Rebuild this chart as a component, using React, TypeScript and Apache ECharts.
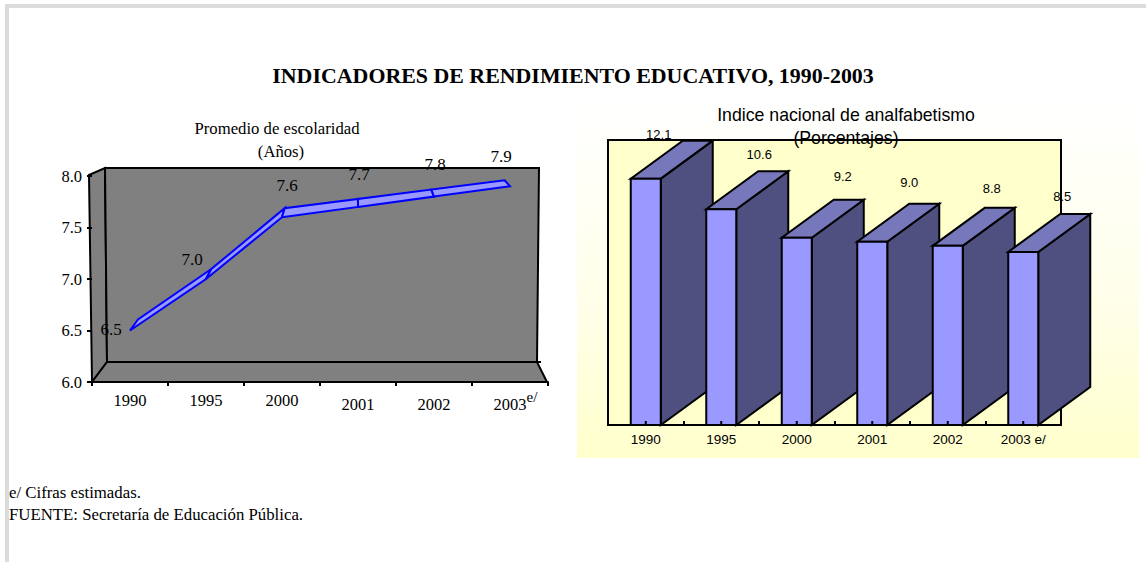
import React, { useEffect, useRef } from "react";
import * as echarts from "echarts";

const mainTitle = "INDICADORES DE RENDIMIENTO EDUCATIVO, 1990-2003";
const leftTitle = "Promedio de escolaridad";
const leftSubtitle = "(Años)";
const rightTitle = "Indice nacional de analfabetismo";
const rightSubtitle = "(Porcentajes)";
const footnotes = ["e/ Cifras estimadas.", "FUENTE: Secretaría de Educación Pública."];

const leftYears = ["1990", "1995", "2000", "2001", "2002", "2003"];
const rightYears = ["1990", "1995", "2000", "2001", "2002", "2003 e/"];
const schooling = [6.5, 7.0, 7.6, 7.7, 7.8, 7.9];
const illiteracy = [12.1, 10.6, 9.2, 9.0, 8.8, 8.5];
const illiteracyLabels = ["12.1", "10.6", "9.2", "9.0", "8.8", "8.5"];
const yTicks = { min: 6, max: 8, interval: 0.5 };

// layout only: label offsets from each mark's anchor point
const leftLabelShift = [[-19, -1], [-14, -20], [5, -32], [1, -32], [1, -32], [-9, -30]];
const rightLabelShift = [[13, -44], [38, -55], [46, -61], [37, -59], [44, -57], [39, -55]];

const SERIF = '"Liberation Serif", serif';
const SANS = '"Liberation Sans", sans-serif';
const GREY = "#808080";

function wallsRender(params: any) {
  const c = params.coordSys;
  const L = c.x, R = c.x + c.width, T = c.y, B = c.y + c.height;
  const backB = B - 20, backT = T - 8;
  const st = { fill: GREY, stroke: "#000", lineWidth: 2 };
  const poly = (points: number[][]) => ({ type: "polygon", shape: { points }, style: st });
  return {
    type: "group",
    children: [
      poly([[L - 3, T - 1], [L + 13, backT], [L + 15, backB], [L, B]]),
      poly([[L + 13, backT], [R - 9, backT], [R - 11, backB], [L + 15, backB]]),
      poly([[L, B], [L + 15, backB], [R - 11, backB], [R - 1, B]]),
      { type: "line", shape: { x1: R - 11, y1: backB, x2: R - 7, y2: backB }, style: { stroke: "#000", lineWidth: 2 } },
    ],
  };
}

function ribbonRender(params: any, api: any) {
  const c = params.coordSys;
  const i = params.dataIndex;
  const mid = c.x + c.width * 0.583;
  const back = (p: number[]) => [
    p[0] + (mid - p[0]) * 0.035,
    p[1] - (11 - ((p[0] - c.x - 38) * 5) / 380),
  ];
  const a = api.coord([i, schooling[i]]);
  const children: any[] = [];
  if (i < schooling.length - 1) {
    const b = api.coord([i + 1, schooling[i + 1]]);
    children.push({
      type: "polygon",
      shape: { points: [a, b, back(b), back(a)] },
      style: { fill: "#9999ff", stroke: "#0000ff", lineWidth: 2 },
    });
  }
  children.push({
    type: "text",
    z2: 10,
    style: {
      x: a[0] + leftLabelShift[i][0],
      y: a[1] + leftLabelShift[i][1],
      text: schooling[i].toFixed(1),
      font: `17px ${SERIF}`,
      fill: "#000",
      align: "center",
      verticalAlign: "middle",
    },
  });
  return { type: "group", children };
}

function barRender(params: any, api: any) {
  const i = params.dataIndex;
  const top = api.coord([i, illiteracy[i]]);
  const base = api.coord([i, 0]);
  const w = 15, dx = 52, dy = -38;
  const x0 = top[0] - w, x1 = top[0] + w;
  const st = (fill: string) => ({ fill, stroke: "#000", lineWidth: 2, lineJoin: "miter" });
  return {
    type: "group",
    children: [
      { type: "polygon", shape: { points: [[x1, top[1]], [x1 + dx, top[1] + dy], [x1 + dx, base[1] + dy], [x1, base[1]]] }, style: st("#4f4f80") },
      { type: "polygon", shape: { points: [[x0, top[1]], [x1, top[1]], [x1 + dx, top[1] + dy], [x0 + dx, top[1] + dy]] }, style: st("#7777bb") },
      { type: "rect", shape: { x: x0, y: top[1], width: 2 * w, height: base[1] - top[1] }, style: st("#9999ff") },
      { type: "line", shape: { x1: top[0], y1: base[1], x2: top[0], y2: base[1] - 4 }, style: { stroke: "#000", lineWidth: 2 } },
      {
        type: "text",
        z2: 10,
        style: {
          x: top[0] + rightLabelShift[i][0],
          y: top[1] + rightLabelShift[i][1],
          text: illiteracyLabels[i],
          font: `13px ${SANS}`,
          fill: "#000",
          align: "center",
          verticalAlign: "middle",
        },
      },
    ],
  };
}

const titleItem = (text: string, x: number, y: number, font: string, size: number, weight = "normal") => ({
  text,
  left: x,
  top: y,
  textAlign: "center",
  textVerticalAlign: "middle",
  padding: 0,
  textStyle: { fontFamily: font, fontSize: size, fontWeight: weight, color: "#000" },
});

export default function App() {
  const ref = useRef<HTMLDivElement>(null);
  useEffect(() => {
    document.body.style.margin = "0";
    const chart = echarts.init(ref.current!, undefined, { renderer: "svg" });
    chart.setOption({
      animation: false,
      backgroundColor: "#fff",
      title: [
        titleItem(mainTitle, 573, 75, SERIF, 21.9, "bold"),
        titleItem(leftTitle, 277, 128, SERIF, 16.7),
        titleItem(leftSubtitle, 281, 151, SERIF, 16.7),
        titleItem(rightTitle, 846, 115, SANS, 17.7),
        titleItem(rightSubtitle, 846, 138, SANS, 17.7),
      ],
      graphic: [
        { type: "rect", z: -10, shape: { x: 5, y: 4, width: 1141, height: 4 }, style: { fill: "#dcdcdc" } },
        { type: "rect", z: -10, shape: { x: 5, y: 4, width: 4, height: 558 }, style: { fill: "#dcdcdc" } },
        {
          type: "rect",
          z: -10,
          shape: { x: 577, y: 100, width: 562, height: 358 },
          style: {
            fill: new echarts.graphic.LinearGradient(0, 0, 0, 1, [
              { offset: 0, color: "#ffffff" },
              { offset: 0.6, color: "#ffffe8" },
              { offset: 1, color: "#ffffcc" },
            ]),
          },
        },
        { type: "text", z: 10, style: { x: 532, y: 397, text: "e/", font: `15px ${SERIF}`, fill: "#000", verticalAlign: "middle", align: "center" } },
        { type: "text", z: 10, style: { x: 9, y: 492, text: footnotes[0], font: `16.8px ${SERIF}`, fill: "#000", verticalAlign: "middle" } },
        { type: "text", z: 10, style: { x: 9, y: 514, text: footnotes[1], font: `16.8px ${SERIF}`, fill: "#000", verticalAlign: "middle" } },
      ],
      grid: [
        { left: 92, top: 176, width: 456, height: 206, containLabel: false },
        { left: 608, top: 140, width: 453, height: 285, show: true, backgroundColor: "#ffffcc", borderColor: "#000", borderWidth: 2 },
      ],
      xAxis: [
        {
          type: "category",
          gridIndex: 0,
          data: leftYears,
          z: 5,
          axisLine: { lineStyle: { color: "#000", width: 2 } },
          axisTick: { show: true, length: 4, lineStyle: { color: "#000", width: 2 } },
          axisLabel: {
            margin: 10,
            color: "#000",
            fontFamily: SERIF,
            fontSize: 16.5,
            interval: 0,
            formatter: (v: string, idx: number) => (idx >= 3 ? `{low|${v}}` : v),
            rich: { low: { fontFamily: SERIF, fontSize: 16.5, color: "#000", padding: [4, 0, 0, 0] } },
          },
        },
        {
          type: "category",
          gridIndex: 1,
          data: rightYears,
          z: 5,
          axisLine: { lineStyle: { color: "#000", width: 2 } },
          axisTick: { show: true, inside: true, length: 4, lineStyle: { color: "#000", width: 2 } },
          axisLabel: { margin: 7, color: "#000", fontFamily: SANS, fontSize: 13.5, interval: 0 },
        },
      ],
      yAxis: [
        {
          type: "value",
          gridIndex: 0,
          ...yTicks,
          z: 5,
          splitLine: { show: false },
          axisLine: { show: false },
          axisTick: { show: true, length: 5, lineStyle: { color: "#000", width: 2 } },
          axisLabel: { margin: 10, color: "#000", fontFamily: SERIF, fontSize: 16.5, formatter: (v: number) => v.toFixed(1) },
        },
        { type: "value", gridIndex: 1, min: 0, max: 14, interval: 2, show: false, splitLine: { show: false } },
      ],
      series: [
        { type: "custom", xAxisIndex: 0, yAxisIndex: 0, data: [[0, 6]], renderItem: wallsRender, silent: true, clip: false, z: 1 },
        {
          type: "custom",
          xAxisIndex: 0,
          yAxisIndex: 0,
          data: schooling.map((v, i) => [i, v]),
          encode: { x: 0, y: 1 },
          renderItem: ribbonRender,
          silent: true,
          clip: false,
          z: 2,
        },
        {
          type: "custom",
          xAxisIndex: 1,
          yAxisIndex: 1,
          data: illiteracy.map((v, i) => [i, v]),
          encode: { x: 0, y: 1 },
          renderItem: barRender,
          silent: true,
          clip: false,
          z: 2,
        },
      ],
    });
    return () => chart.dispose();
  }, []);
  return <div ref={ref} style={{ position: "fixed", left: 0, top: 0, width: 1146, height: 562 }} />;
}
